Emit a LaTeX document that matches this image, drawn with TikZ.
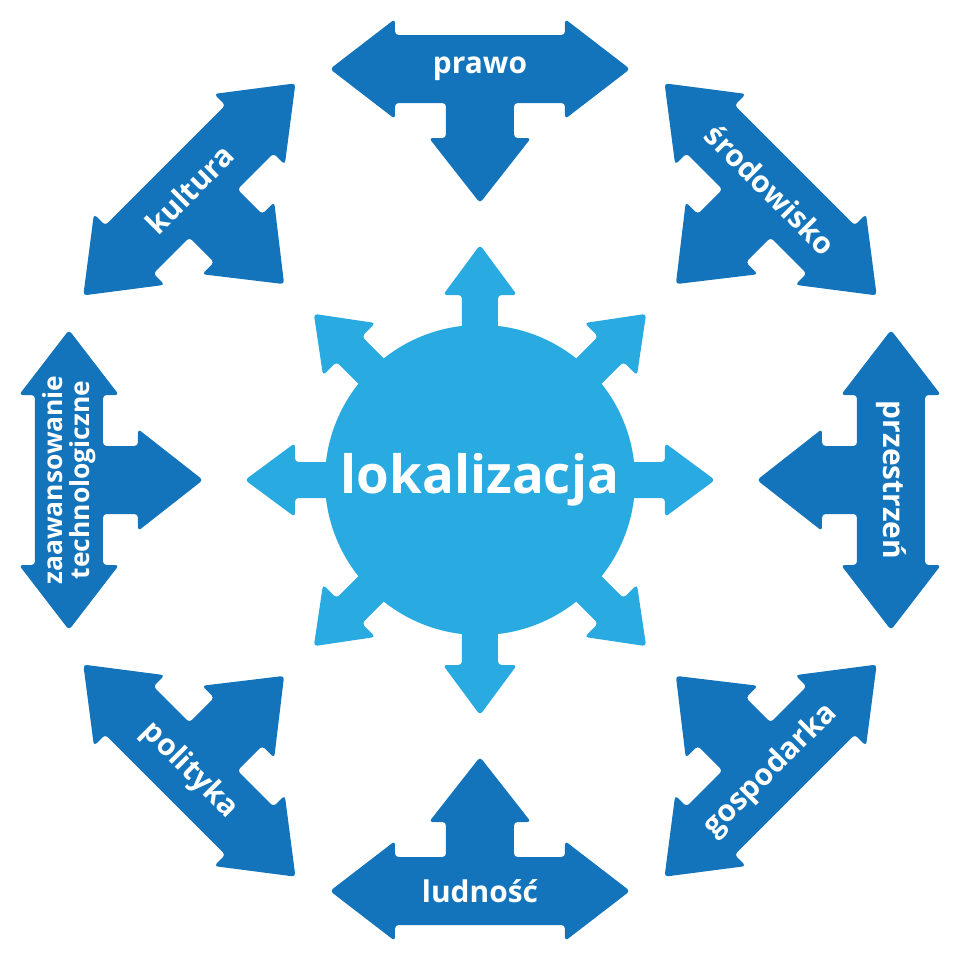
\documentclass[tikz,border=0pt]{standalone}
\usepackage{fontspec}
\setmainfont{Open Sans}
\definecolor{outerblue}{HTML}{1374BC}
\definecolor{innerblue}{HTML}{29ABE2}

% one outer T-shaped arrow: angle, text rotation, name, label
\newcommand{\tarrow}[4]{%
  \begin{scope}[rotate=#1-90]
    \fill[outerblue,rounded corners=1pt]
      (-85,445) -- (-85,461) -- (-150,411) -- (-85,361) -- (-85,377)
      -- (-34,377) -- (-34,342) -- (-51,342) -- (0,277) -- (51,342)
      -- (34,342) -- (34,377) -- (85,377) -- (85,361) -- (150,411)
      -- (85,461) -- (85,445) -- cycle;
    \node[lbl,rotate=#2] (#3) at (0,411) {#4};
  \end{scope}}

\begin{document}
\begin{tikzpicture}[x=0.01cm,y=0.01cm,
    lbl/.style={text=white,font=\bfseries\fontsize{8.5}{8.5}\selectfont,
                align=center,inner sep=0pt}]
  \useasboundingbox (-480,-480) rectangle (480,480);

  % centre
  \foreach \a in {0,45,...,315}
    \fill[innerblue,rotate=\a,rounded corners=1pt]
      (-18,120) -- (-18,185) -- (-37,185) -- (0,235) -- (37,185)
      -- (18,185) -- (18,120) -- cycle;
  \node[circle,fill=innerblue,minimum size=3.1cm,inner sep=0pt,text=white,
        font=\bfseries\fontsize{15}{15}\selectfont] (loc) at (0,0) {lokalizacja};

  % outer ring
  \tarrow{90}{0}{prawo}{prawo}
  \tarrow{45}{-45}{srod}{środowisko}
  \tarrow{0}{-90}{przes}{przestrzeń}
  \tarrow{-45}{45}{gosp}{gospodarka}
  \tarrow{-90}{0}{lud}{ludność}
  \tarrow{-135}{-45}{pol}{polityka}
  \tarrow{180}{90}{tech}{\fontsize{7.5}{7.5}\selectfont zaawansowanie\\[-1pt]\fontsize{7.5}{7.5}\selectfont technologiczne}
  \tarrow{135}{45}{kult}{kultura}
\end{tikzpicture}
\end{document}
